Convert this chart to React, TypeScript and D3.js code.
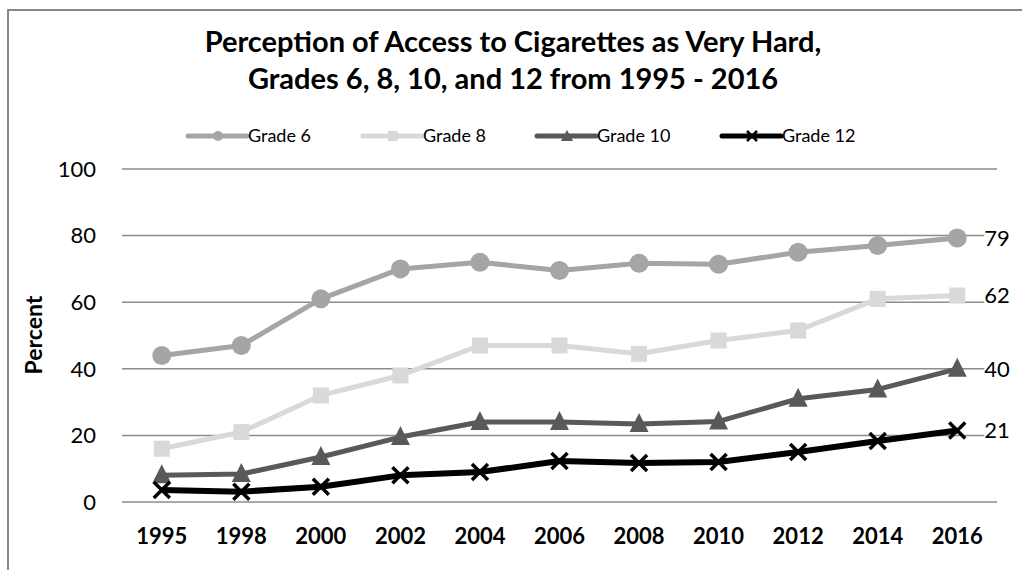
import React, { useEffect, useRef } from 'react';
import * as d3 from 'd3';

const years = ['1995', '1998', '2000', '2002', '2004', '2006', '2008', '2010', '2012', '2014', '2016'];
const grade6 = [44, 47, 61, 70, 72, 69.5, 71.7, 71.4, 75, 77, 79.3];
const grade8 = [16, 21, 32, 38, 47, 47, 44.5, 48.5, 51.5, 61, 62];
const grade10 = [8, 8.4, 13.5, 19.5, 24, 24, 23.4, 24.2, 31, 33.8, 40];
const grade12 = [3.6, 3.1, 4.6, 8, 9, 12.3, 11.7, 12, 15, 18.3, 21.5];
const endLabels = ['79', '62', '40', '21'];
const yTicks = [0, 20, 40, 60, 80, 100];

type Series = { name: string; values: number[]; color: string; marker: string; width: number };

const series: Series[] = [
  { name: 'Grade 6', values: grade6, color: '#a5a5a5', marker: 'circle', width: 5 },
  { name: 'Grade 8', values: grade8, color: '#d9d9d9', marker: 'square', width: 5 },
  { name: 'Grade 10', values: grade10, color: '#595959', marker: 'triangle', width: 5 },
  { name: 'Grade 12', values: grade12, color: '#000000', marker: 'x', width: 6 },
];

const FONT = 'Lato, "Open Sans", sans-serif';

export default function App() {
  const svgRef = useRef<SVGSVGElement | null>(null);

  useEffect(() => {
    if (!svgRef.current) return;
    const svg = d3.select(svgRef.current);
    svg.selectAll('*').remove();

    const width = 1022;
    const height = 570;
    const margin = { top: 169, right: 25, bottom: 68, left: 122 };

    // chart frame (right and bottom edges fall outside the picture)
    svg.append('rect')
      .attr('x', 8).attr('y', 10).attr('width', 1030).attr('height', 580)
      .attr('fill', '#fff').attr('stroke', '#878787').attr('stroke-width', 2);

    const x = d3.scalePoint<string>()
      .domain(years)
      .range([margin.left, width - margin.right])
      .padding(0.5);

    const y = d3.scaleLinear()
      .domain([0, 100])
      .range([height - margin.bottom, margin.top]);

    // title
    const title = svg.append('text')
      .attr('text-anchor', 'middle')
      .attr('font-family', FONT)
      .attr('font-weight', 'bold')
      .attr('font-size', 29)
      .attr('fill', '#000');
    title.append('tspan').attr('x', 513).attr('y', 52).text('Perception of Access to Cigarettes as Very Hard,');
    title.append('tspan').attr('x', 513).attr('y', 89).text('Grades 6, 8, 10, and 12 from 1995 - 2016');

    // gridlines
    svg.append('g')
      .selectAll('line')
      .data(yTicks)
      .join('line')
      .attr('x1', margin.left).attr('x2', width - margin.right)
      .attr('y1', d => y(d)).attr('y2', d => y(d))
      .attr('stroke', '#8c8c8c').attr('stroke-width', 1.5);

    // y axis labels
    svg.append('g')
      .selectAll('text')
      .data(yTicks)
      .join('text')
      .attr('x', 96).attr('y', d => y(d)).attr('dy', '0.35em')
      .attr('text-anchor', 'end')
      .attr('font-family', FONT).attr('font-size', 22)
      .text(d => d);

    svg.append('text')
      .attr('transform', `translate(42,335) rotate(-90)`)
      .attr('text-anchor', 'middle')
      .attr('font-family', FONT).attr('font-weight', 'bold').attr('font-size', 23)
      .text('Percent');

    // x labels
    svg.append('g')
      .selectAll('text')
      .data(years)
      .join('text')
      .attr('x', d => x(d)!).attr('y', 544)
      .attr('text-anchor', 'middle')
      .attr('font-family', FONT).attr('font-weight', 'bold').attr('font-size', 22)
      .text(d => d);

    const drawMarker = (g: d3.Selection<SVGGElement, unknown, null, undefined>, s: Series, cx: number, cy: number) => {
      if (s.marker === 'circle') {
        g.append('circle').attr('cx', cx).attr('cy', cy).attr('r', 9.5).attr('fill', s.color);
      } else if (s.marker === 'square') {
        g.append('rect').attr('x', cx - 8).attr('y', cy - 8).attr('width', 16).attr('height', 16).attr('fill', s.color);
      } else if (s.marker === 'triangle') {
        g.append('path')
          .attr('d', `M${cx},${cy - 11}L${cx + 9.5},${cy + 8}L${cx - 9.5},${cy + 8}Z`)
          .attr('fill', s.color);
      } else {
        g.append('path')
          .attr('d', `M${cx - 8},${cy - 8}L${cx + 8},${cy + 8}M${cx + 8},${cy - 8}L${cx - 8},${cy + 8}`)
          .attr('stroke', s.color).attr('stroke-width', 3.5).attr('fill', 'none');
      }
    };

    const line = d3.line<number>()
      .x((_, i) => x(years[i])!)
      .y(d => y(d));

    const labelLayer = svg.append('g');

    series.forEach((s, si) => {
      const g = svg.append('g');
      g.append('path')
        .datum(s.values)
        .attr('fill', 'none')
        .attr('stroke', s.color)
        .attr('stroke-width', s.width)
        .attr('stroke-linejoin', 'round')
        .attr('d', line);
      s.values.forEach((v, i) => drawMarker(g, s, x(years[i])!, y(v)));

      const last = s.values[s.values.length - 1];
      const lx = x(years[years.length - 1])! + 27;
      labelLayer.append('rect')
        .attr('x', lx).attr('y', y(last) - 13).attr('width', 28).attr('height', 26)
        .attr('fill', '#fff');
      labelLayer.append('text')
        .attr('x', lx).attr('y', y(last)).attr('dy', '0.35em')
        .attr('font-family', FONT).attr('font-size', 22)
        .text(endLabels[si]);
    });
    labelLayer.raise();

    // legend
    const legendX = [188, 363, 537, 722];
    series.forEach((s, i) => {
      const g = svg.append('g');
      const lx = legendX[i];
      const ly = 136;
      g.append('line')
        .attr('x1', lx).attr('x2', lx + 59).attr('y1', ly).attr('y2', ly)
        .attr('stroke', s.color).attr('stroke-width', 5).attr('stroke-linecap', 'round');
      if (s.marker === 'circle') {
        g.append('circle').attr('cx', lx + 30).attr('cy', ly).attr('r', 5).attr('fill', s.color);
      } else if (s.marker === 'square') {
        g.append('rect').attr('x', lx + 25).attr('y', ly - 5).attr('width', 10).attr('height', 10).attr('fill', s.color);
      } else if (s.marker === 'triangle') {
        g.append('path').attr('d', `M${lx + 30},${ly - 6}L${lx + 36},${ly + 5}L${lx + 24},${ly + 5}Z`).attr('fill', s.color);
      } else {
        g.append('path')
          .attr('d', `M${lx + 25},${ly - 5}L${lx + 35},${ly + 5}M${lx + 35},${ly - 5}L${lx + 25},${ly + 5}`)
          .attr('stroke', s.color).attr('stroke-width', 2.5);
      }
      g.append('text')
        .attr('x', lx + 60).attr('y', ly).attr('dy', '0.35em')
        .attr('font-family', FONT).attr('font-size', 18)
        .text(s.name);
    });
  }, []);

  return (
    <svg
      ref={svgRef}
      width={1022}
      height={570}
      style={{ position: 'absolute', left: 0, top: 0, background: '#fff' }}
    ></svg>
  );
}
